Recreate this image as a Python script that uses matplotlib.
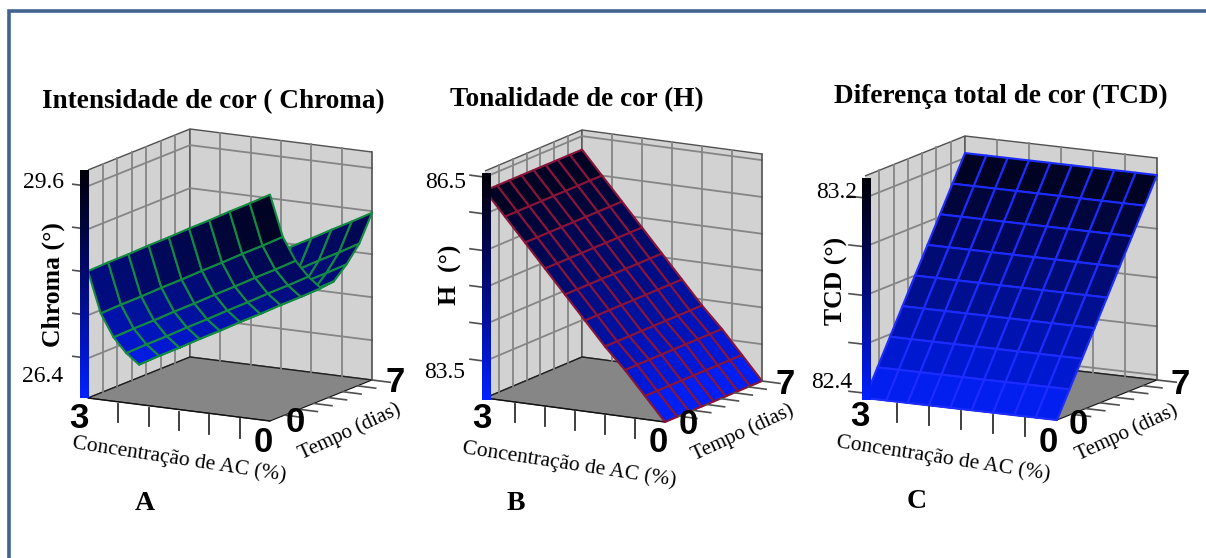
import matplotlib
matplotlib.use("Agg")
import matplotlib.pyplot as plt
import numpy as np
from matplotlib.colors import LinearSegmentedColormap
from matplotlib.lines import Line2D
from mpl_toolkits.mplot3d import proj3d

W, H = 1206, 558

plt.rcParams['font.family'] = ['Liberation Serif', 'DejaVu Serif']

conc = [3.0, 2.667, 2.333, 2.0, 1.667, 1.333, 1.0, 0.667, 0.333, 0.0]
tempo = [0.0, 0.875, 1.75, 2.625, 3.5, 4.375, 5.25, 6.125, 7.0]

# chroma, one row per tempo, one column per conc
chroma = [
    [28.02, 28.23, 28.43, 28.64, 28.84, 29.05, 29.25, 29.46, 29.66, 29.87],
    [27.14, 27.35, 27.55, 27.76, 27.96, 28.17, 28.37, 28.58, 28.78, 28.99],
    [26.60, 26.81, 27.01, 27.22, 27.42, 27.63, 27.83, 28.04, 28.24, 28.45],
    [26.21, 26.42, 26.62, 26.83, 27.03, 27.24, 27.44, 27.65, 27.85, 28.06],
    [25.90, 26.11, 26.31, 26.52, 26.72, 26.93, 27.13, 27.34, 27.54, 27.75],
    [25.93, 26.14, 26.34, 26.55, 26.75, 26.96, 27.16, 27.37, 27.57, 27.78],
    [26.15, 26.36, 26.56, 26.77, 26.97, 27.18, 27.38, 27.59, 27.79, 28.00],
    [26.44, 26.65, 26.85, 27.06, 27.26, 27.47, 27.67, 27.88, 28.08, 28.29],
    [26.92, 27.13, 27.33, 27.54, 27.74, 27.95, 28.15, 28.36, 28.56, 28.77],
]
# H only changes with conc, TCD only changes with tempo
h_by_conc = [86.28, 85.90, 85.52, 85.14, 84.76, 84.38, 84.00, 83.66, 83.28, 82.90]
tcd_by_tempo = [82.38, 82.485, 82.59, 82.695, 82.80, 82.905, 83.01, 83.115, 83.22]

chroma_ticks = [26.4, 27.2, 28.0, 28.8, 29.6]
h_ticks = [83.5, 84.1, 84.7, 85.3, 85.9, 86.5]
tcd_ticks = [82.4, 82.6, 82.8, 83.0, 83.2]
conc_ticks = [2.5, 2.0, 1.5, 1.0, 0.5]
tempo_ticks = [1, 2, 3, 4, 5, 6]

cmap = LinearSegmentedColormap.from_list(
    'azul', ['#0322ff', '#0016c8', '#000f90', '#000860', '#000430', '#000008'])


def panel(z, zlim, ticks, edge, left, front, right, height, bar):
    # left, front, right are the floor corners in image pixels
    dc = (front[0] - left[0], front[1] - left[1])
    dt = (right[0] - front[0], front[1] - right[1])
    s1, s2 = dc[1] / dc[0], dt[1] / dt[0]
    sin_e = np.sqrt(s1 * s2)
    a = np.arctan(s1 / sin_e)
    aspect = (dc[0] / np.cos(a), dt[0] / np.sin(a), height / np.cos(np.arcsin(sin_e)))

    ax = fig.add_subplot(projection='3d', proj_type='ortho', computed_zorder=False)
    ax.set_position([0.1, 0.1, 0.6, 0.6])
    ax.patch.set_alpha(0)
    ax.view_init(elev=np.degrees(np.arcsin(sin_e)), azim=270 + np.degrees(a))
    ax.set_xlim(3, 0)
    ax.set_ylim(0, 7)
    ax.set_zlim(*zlim)
    ax.set_box_aspect(aspect, zoom=1.0)

    ax.grid(False)
    ax.set_xticks([])
    ax.set_yticks([])
    ax.set_zticks([])
    ax.xaxis.line.set_color('#101010')
    ax.yaxis.line.set_color('#101010')
    ax.zaxis.line.set_color((0, 0, 0, 0))
    ax.xaxis.set_pane_color('#d2d2d2')
    ax.yaxis.set_pane_color('#d2d2d2')
    ax.zaxis.set_pane_color('#868686')
    ax.xaxis.pane.set_edgecolor('#505050')
    ax.yaxis.pane.set_edgecolor('#505050')
    ax.zaxis.pane.set_edgecolor('#202020')

    # wall lines only, the floor stays plain
    wall = dict(color='#858585', lw=1.3, zorder=1)
    for c in conc_ticks:
        ax.plot([c, c], [7, 7], list(zlim), **wall)
    for t in tempo_ticks:
        ax.plot([3, 3], [t, t], list(zlim), **wall)
    for v in ticks:
        ax.plot([3, 3, 0], [0, 7, 7], [v, v, v], **wall)
    ax.plot([0, 0], [7, 7], list(zlim), color='#505050', lw=1.2, zorder=1)

    C, T = np.meshgrid(conc, tempo)
    Z = np.array(z)
    mean = (Z[:-1, :-1] + Z[1:, :-1] + Z[:-1, 1:] + Z[1:, 1:]) / 4
    colors = cmap((mean - zlim[0]) / (zlim[1] - zlim[0]))
    ax.plot_surface(C, T, Z, rstride=1, cstride=1, facecolors=colors, shade=False,
                    edgecolor=edge, linewidth=1.5, antialiased=True, zorder=2)

    # ticks below the floor and outside the box
    floor = zlim[0]
    drop = (zlim[1] - zlim[0]) * 0.09
    for c in conc_ticks:
        ax.plot([c, c], [0, 0], [floor - drop * 0.1, floor - drop], color='#303030', lw=1.3, zorder=3)
    for t in tempo_ticks + [7]:
        ax.plot([0, -0.3], [t, t], [floor, floor], color='#505050', lw=1.2, zorder=3)
    for v in ticks:
        ax.plot([3, 3.25], [0, 0], [v, v], color='#505050', lw=1.2, zorder=3)

    # shift and scale the axes so the floor corners land on the picture's pixels
    fig.canvas.draw()
    for _ in range(3):
        M = ax.get_proj()
        pts = []
        for c3, t3 in [(3, 0), (0, 7)]:
            x2, y2, _z = proj3d.proj_transform(c3, t3, zlim[0], M)
            pts.append(ax.transData.transform((x2, y2)))
        factor = (right[0] - left[0]) / (pts[1][0] - pts[0][0])
        pos = ax.get_position()
        ax.set_position([pos.x0, pos.y0, pos.width * factor, pos.height * factor])
        fig.canvas.draw()
        M = ax.get_proj()
        x2, y2, _z = proj3d.proj_transform(3, 0, zlim[0], M)
        p = ax.transData.transform((x2, y2))
        pos = ax.get_position()
        ax.set_position([pos.x0 + (left[0] - p[0]) / W,
                         pos.y0 + ((H - left[1]) - p[1]) / H, pos.width, pos.height])
        fig.canvas.draw()

    # color bar standing on the front left corner
    bx, btop, bw, bh = bar
    cax = fig.add_axes([bx / W, 1 - (btop + bh) / H, bw / W, bh / H])
    cax.imshow(np.linspace(1, 0, 256).reshape(-1, 1), cmap=cmap, aspect='auto', vmin=0, vmax=1)
    cax.axis('off')
    return ax


fig = plt.figure(figsize=(W / 100, H / 100), dpi=100, facecolor='white')

# blue frame, only top and left
frame = '#41648f'
fig.add_artist(Line2D([8.5 / W, 8.5 / W, 1.0], [0.0, 1 - 11 / H, 1 - 11 / H], color=frame, lw=2.6,
                      solid_joinstyle='miter', transform=fig.transFigure))

panel(chroma, (25.66, 29.9), chroma_ticks, '#128a42',
      (88, 398), (270, 421), (372, 380), 228, (80, 170, 9, 228))
panel(np.tile(h_by_conc, (9, 1)), (82.9, 86.6), h_ticks, '#8a1438',
      (485, 398), (665, 422), (762, 381), 227, (482, 173, 9, 227))
panel(np.tile(tcd_by_tempo, (10, 1)).T, (82.38, 83.29), tcd_ticks, '#1c2cff',
      (865, 398), (1057, 420), (1157, 380), 222, (862, 178, 9, 222))


def label(x, y, s, **kw):
    fig.text(x / W, 1 - y / H, s, ha='center', va='center', **kw)


title = dict(fontsize=19.6, fontweight='bold')
label(213, 102, 'Intensidade de cor ( Chroma)', **title)
label(577, 100, 'Tonalidade de cor (H)', **title)
label(1001, 96, 'Diferença total de cor (TCD)', **title)

panel_tag = dict(fontsize=20, fontweight='bold')
label(145, 503, 'A', **panel_tag)
label(516, 504, 'B', **panel_tag)
label(917, 502, 'C', **panel_tag)

yl = dict(fontsize=18.5, fontweight='bold', rotation=90)
label(53, 285, 'Chroma (°)', **yl)
label(450, 275, 'H  (°)', **yl)
label(836, 281, 'TCD (°)', **yl)

val = dict(fontsize=17)
for x, y, s in [(43, 182, '29.6'), (43, 376, '26.4'), (446, 182, '86.5'), (445, 372, '83.5'),
                (837, 192, '83.2'), (832, 382, '82.4')]:
    label(x, y, s, **val)

xl = dict(fontsize=15.5, rotation=-8.7)
label(179, 460, 'Concentração de AC (%)', **xl)
label(569, 465, 'Concentração de AC (%)', **xl)
label(943, 459, 'Concentração de AC (%)', **xl)
tl = dict(fontsize=15, rotation=25)
label(350, 432, 'Tempo (dias)', **tl)
label(743, 433, 'Tempo (dias)', **tl)
label(1127, 433, 'Tempo (dias)', **tl)

digit = dict(fontsize=25, fontweight='bold', family=['Liberation Sans', 'DejaVu Sans'])
for x, y, s in [(79, 418, '3'), (263, 442, '0'), (295, 423, '0'), (395, 383, '7'),
                (482, 418, '3'), (658, 442, '0'), (688, 425, '0'), (785, 385, '7'),
                (860, 417, '3'), (1048, 442, '0'), (1078, 425, '0'), (1180, 385, '7')]:
    label(x, y, s, **digit)

fig.savefig('out.png', dpi=100)
